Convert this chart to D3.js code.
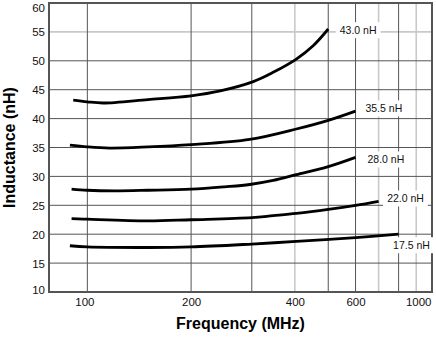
<!DOCTYPE html>
<html>
<head>
<meta charset="utf-8">
<script src="https://cdn.jsdelivr.net/npm/d3@7"></script>
<style>
  html, body { margin: 0; padding: 0; background: #fff; }
  svg { display: block; font-family: "Liberation Sans", Arial, Helvetica, sans-serif; }
</style>
</head>
<body>
<svg id="chart" width="436" height="339"></svg>
<script>
// ---- data ----
const seriesNames = ["43.0 nH", "35.5 nH", "28.0 nH", "22.0 nH", "17.5 nH"];
const freq430 = [91, 100, 111, 150, 200, 243, 303, 346, 404, 452, 500];
const ind430  = [43.2, 42.9, 42.7, 43.3, 43.95, 44.8, 46.4, 48.0, 50.3, 52.6, 55.5];
const freq355 = [89, 100, 116, 150, 200, 296, 404, 500, 600];
const ind355  = [35.4, 35.1, 34.9, 35.1, 35.5, 36.4, 38.2, 39.7, 41.3];
const freq280 = [90, 100, 120, 150, 200, 250, 296, 346, 404, 500, 600];
const ind280  = [27.8, 27.6, 27.5, 27.6, 27.8, 28.2, 28.6, 29.3, 30.3, 31.7, 33.3];
const freq220 = [90, 100, 150, 200, 300, 346, 404, 500, 600, 700];
const ind220  = [22.7, 22.6, 22.3, 22.5, 22.85, 23.2, 23.6, 24.3, 25.0, 25.7];
const freq175 = [89, 100, 150, 200, 300, 404, 600, 800];
const ind175  = [18.0, 17.8, 17.7, 17.8, 18.3, 18.75, 19.4, 20.0];
// label anchors (data units: frequency of text start, inductance of text middle)
const labelFreq  = [540, 641, 650, 741, 771];
const labelValue = [55.3, 41.76, 32.93, 26.18, 18.09];

const xTickValues = [100, 200, 400, 600, 1000];
const yTickValues = [10, 15, 20, 25, 30, 35, 40, 45, 50, 55, 60];
const xGridDark  = [100, 200, 300, 500, 600, 800];
const xGridLight = [400, 700, 900];
const yGridDark  = [15, 20, 25, 30, 35, 40, 45, 50];
const yGridLight = [55];

const xTitle = "Frequency (MHz)";
const yTitle = "Inductance (nH)";

(function () {
// ---- layout ----
const svg = d3.select("#chart");
const pl = 49, pr = 432, pt = 3, pb = 292;
const x = d3.scaleLog().domain([77.4, 1000]).range([pl, pr]);
const y = d3.scaleLinear().domain([10, 60]).range([pb, pt]);

const dark = "#555", light = "#c9c9c9";

// gridlines
const g = svg.append("g");
g.selectAll(".vl").data(xGridLight).join("line")
  .attr("x1", d => x(d)).attr("x2", d => x(d)).attr("y1", pt).attr("y2", pb)
  .attr("stroke", light).attr("stroke-width", 1.6);
g.selectAll(".hl").data(yGridLight).join("line")
  .attr("x1", pl).attr("x2", pr).attr("y1", d => y(d)).attr("y2", d => y(d))
  .attr("stroke", light).attr("stroke-width", 1.6);
g.selectAll(".vd").data(xGridDark).join("line")
  .attr("x1", d => x(d)).attr("x2", d => x(d)).attr("y1", pt).attr("y2", pb)
  .attr("stroke", dark).attr("stroke-width", 1);
g.selectAll(".hd").data(yGridDark).join("line")
  .attr("x1", pl).attr("x2", pr).attr("y1", d => y(d)).attr("y2", d => y(d))
  .attr("stroke", dark).attr("stroke-width", 1);

// frame
svg.append("rect").attr("x", pl).attr("y", pt)
  .attr("width", pr - pl).attr("height", pb - pt)
  .attr("fill", "none").attr("stroke", dark).attr("stroke-width", 2);

// axes (labels only)
const xAxis = d3.axisBottom(x).tickValues(xTickValues).tickFormat(d3.format("d")).tickSize(0).tickPadding(0);
const xa = svg.append("g").attr("transform", `translate(0,${pb})`).call(xAxis);
xa.select(".domain").remove();
xa.selectAll("text").attr("font-size", 11.5).attr("fill", "#111").attr("font-family", null)
  .attr("y", 14).attr("dy", 0)
  .attr("text-anchor", d => d === 1000 ? "end" : "middle")
  .attr("x", d => d === 1000 ? -1 : (d === 100 ? -3 : 0));

const yAxis = d3.axisLeft(y).tickValues(yTickValues).tickSize(0).tickPadding(4);
const ya = svg.append("g").attr("transform", `translate(${pl},0)`).call(yAxis);
ya.select(".domain").remove();
ya.selectAll("text").attr("font-size", 11.5).attr("fill", "#111").attr("font-family", null)
  .attr("dy", d => d === 60 ? "0.7em" : (d === 10 ? "0.1em" : "0.35em"));

// curves
const series = [
  freq430.map((f, i) => [f, ind430[i]]),
  freq355.map((f, i) => [f, ind355[i]]),
  freq280.map((f, i) => [f, ind280[i]]),
  freq220.map((f, i) => [f, ind220[i]]),
  freq175.map((f, i) => [f, ind175[i]])
];
const line = d3.line().x(d => x(d[0])).y(d => y(d[1])).curve(d3.curveCatmullRom.alpha(0.5));
svg.append("g").selectAll("path").data(series).join("path")
  .attr("d", line).attr("fill", "none").attr("stroke", "#000")
  .attr("stroke-width", 2.8).attr("stroke-linecap", "butt");

// labels with white boxes
const lab = svg.append("g").selectAll("g").data(seriesNames).join("g")
  .attr("transform", (d, i) => `translate(${x(labelFreq[i])},${y(labelValue[i])})`);
lab.append("text").text(d => d)
  .attr("font-size", 10.5).attr("fill", "#111").attr("dy", "0.35em");
lab.each(function () {
  const t = d3.select(this).select("text");
  const b = t.node().getBBox();
  d3.select(this).insert("rect", "text")
    .attr("x", b.x - 4).attr("y", -8).attr("width", b.width + 8).attr("height", 16)
    .attr("fill", "#fff");
});

// titles
svg.append("text").text(xTitle)
  .attr("x", (pl + pr) / 2).attr("y", 329)
  .attr("text-anchor", "middle").attr("font-size", 16).attr("font-weight", "bold").attr("fill", "#000");
svg.append("text").text(yTitle)
  .attr("transform", `translate(15,${(pt + pb) / 2}) rotate(-90)`)
  .attr("text-anchor", "middle").attr("font-size", 16).attr("font-weight", "bold").attr("fill", "#000");
})();
</script>
</body>
</html>
